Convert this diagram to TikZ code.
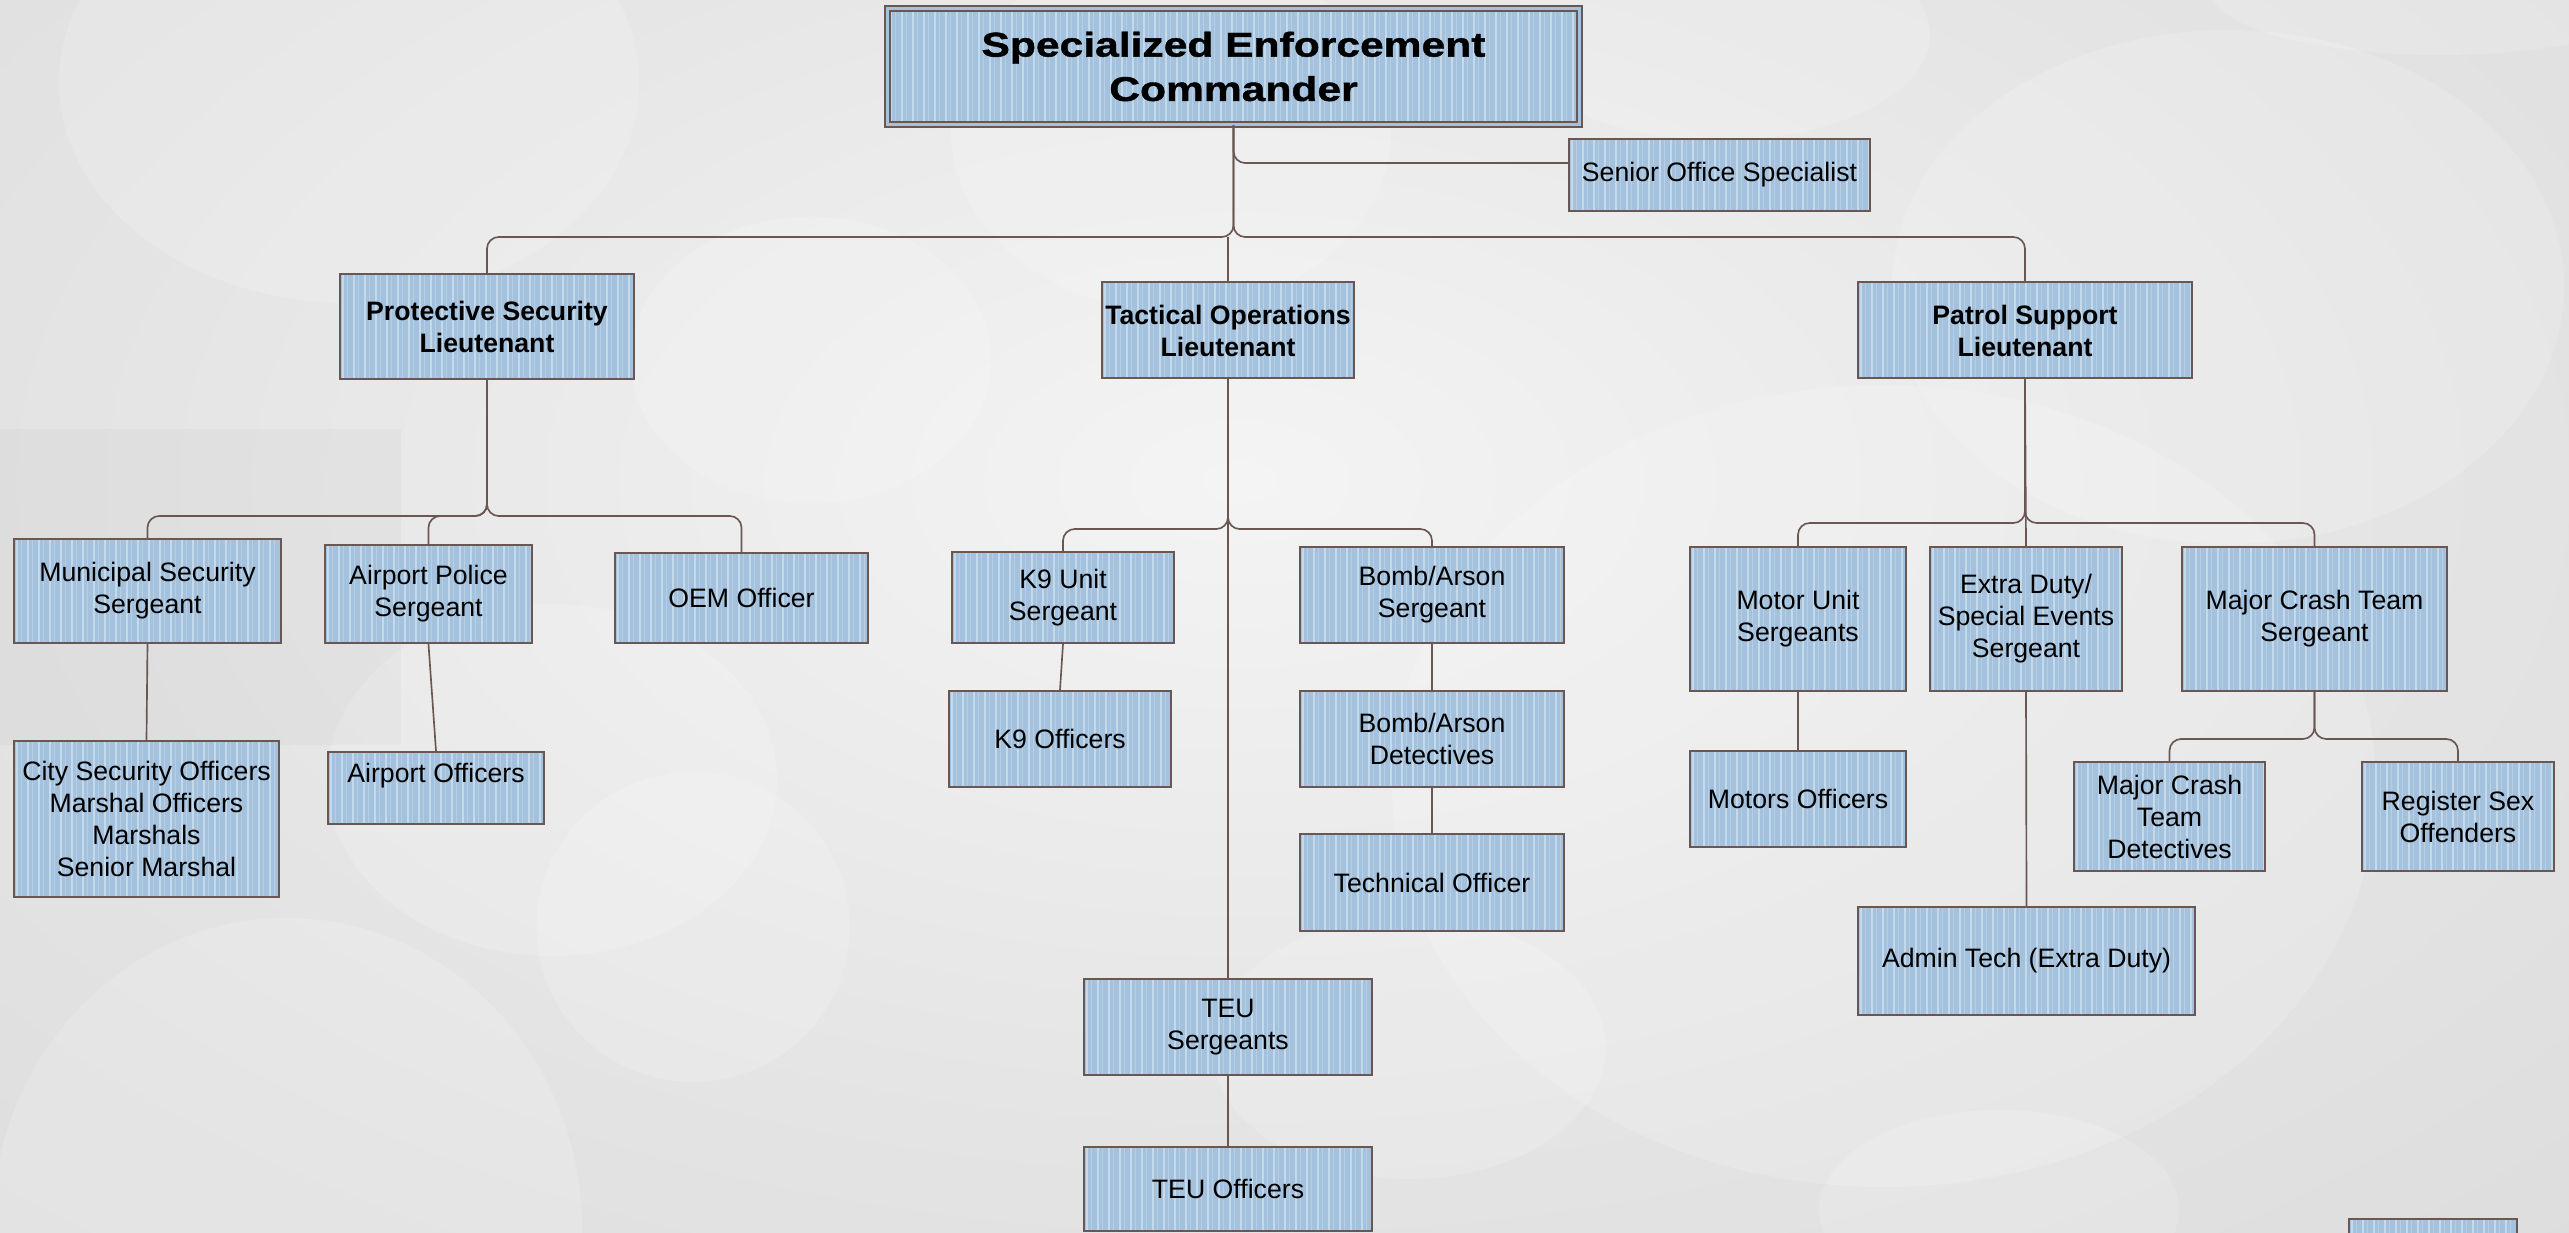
\documentclass[tikz,border=0pt]{standalone}
\usepackage{fontspec}
\setmainfont{Liberation Sans}
\newfontfamily\titlefont{Liberation Sans}[FakeStretch=1.24, FakeBold=1.2]
\definecolor{boxc}{HTML}{A4C2DD}
\definecolor{stripec}{HTML}{C4D9EA}
\definecolor{edgec}{HTML}{6A5752}
\definecolor{bga}{HTML}{F4F4F4}
\definecolor{bgb}{HTML}{E4E4E4}
\definecolor{bgc}{HTML}{D7D7D7}
\definecolor{bgd}{HTML}{CDCDCD}
\pgfdeclareradialshading{bgshade}{\pgfpoint{0bp}{0bp}}{color(0bp)=(bga); color(22bp)=(bgb); color(48bp)=(bgc); color(71bp)=(bgd)}

\begin{document}
\begin{tikzpicture}[x=0.3pt, y=-0.3pt,
  box/.style={shape=rectangle, draw=edgec, line width=0.6pt, fill=boxc, inner sep=0pt, align=center,
    font=\fontsize{8}{9.6}\selectfont,
    path picture={
      \path (path picture bounding box.south west) coordinate (sw) (path picture bounding box.north east) coordinate (ne);
      \foreach \k in {0,...,64} {
        \draw[stripec, line width=0.55pt] ([xshift=\k*3.3pt+1pt]sw) -- ([xshift=\k*3.3pt+1pt]sw |- ne);
        \draw[stripec!55!boxc, line width=0.25pt] ([xshift=\k*3.3pt+2.3pt]sw) -- ([xshift=\k*3.3pt+2.3pt]sw |- ne);
      }}},
  conn/.style={draw=edgec, line width=0.5pt, rounded corners=3.5pt}]
\useasboundingbox (0,0) rectangle (2569,1233);
\clip (0,0) rectangle (2569,1233);

\shade[shading=bgshade] (-90,-270) rectangle (2570,1233);
\fill[black, opacity=0.025] (0,429) rectangle (401,745);
\foreach \cx/\cy/\rx/\ry in {349/82/87/66.3, 1171/130/66/54, 811/360/54/43, 2228/287/100.8/77.1,
  2440/-10/69/19.5, 1720/35/63/31.5, 1884/786/147.6/120.3, 287/1229/88.5/93.3,
  693/927/47/46.5, 552/780/67.5/52.8, 1409/1048/59/39.3, 1999/1210/54/30}
  \fill[white, opacity=0.16] (\cx,\cy) ellipse [x radius=\rx pt, y radius=\ry pt];

\node [box, double=boxc, double distance=0.9pt, line width=0.5pt, minimum width=207.6pt, minimum height=34.8pt,
  font=\titlefont\bfseries\fontsize{10.3}{13.3}\selectfont] (CMD) at (1233.5,66.5) {Specialized Enforcement\\Commander};
\node [box, minimum width=90.3pt, minimum height=21.6pt] (SOS) at (1719.5,175) {Senior Office Specialist};

\node [box, minimum width=88.2pt, minimum height=31.5pt] (PSL) at (487,326.5) {\bfseries Protective Security\\\bfseries Lieutenant};
\node [box, minimum width=75.6pt, minimum height=28.8pt] (TOL) at (1228,330.5) {\bfseries Tactical Operations\\\bfseries Lieutenant};
\node [box, minimum width=100.2pt, minimum height=28.8pt] (PAL) at (2025,330.5) {\bfseries Patrol Support\\\bfseries Lieutenant};

\node [box, minimum width=80.1pt, minimum height=31.2pt] (MSS) at (147.5,591) {Municipal Security\\Sergeant};
\node [box, minimum width=62.1pt, minimum height=29.4pt] (APS) at (428.5,594) {Airport Police\\Sergeant};
\node [box, minimum width=75.9pt, minimum height=27pt] (OEM) at (741.5,598) {OEM Officer};
\node [box, minimum width=79.5pt, minimum height=46.8pt] (CSO) at (146.5,819) {City Security Officers\\Marshal Officers\\Marshals\\Senior Marshal};
\node [box, minimum width=64.8pt, minimum height=21.6pt] (APO) at (436,788) {\raisebox{9pt}{Airport Officers}};

\node [box, minimum width=66.6pt, minimum height=27.3pt] (K9S) at (1063,597.5) {K9 Unit\\Sergeant};
\node [box, minimum width=66.6pt, minimum height=28.8pt] (K9O) at (1060,739) {K9 Officers};
\node [box, minimum width=79.2pt, minimum height=28.8pt] (BAS) at (1432,595) {Bomb/Arson\\Sergeant};
\node [box, minimum width=79.2pt, minimum height=28.8pt] (BAD) at (1432,739) {Bomb/Arson\\Detectives};
\node [box, minimum width=79.2pt, minimum height=29.1pt] (TEC) at (1432,882.5) {Technical Officer};
\node [box, minimum width=86.4pt, minimum height=28.8pt] (TEUS) at (1228,1027) {TEU\\Sergeants};
\node [box, minimum width=86.4pt, minimum height=25.2pt] (TEUO) at (1228,1189) {TEU Officers};

\node [box, minimum width=64.8pt, minimum height=43.2pt] (MUS) at (1798,619) {Motor Unit\\Sergeants};
\node [box, minimum width=57.6pt, minimum height=43.2pt] (EDS) at (2026,619) {Extra Duty/\\Special Events\\Sergeant};
\node [box, minimum width=79.5pt, minimum height=43.2pt] (MCS) at (2314.5,619) {Major Crash Team\\Sergeant};
\node [box, minimum width=64.8pt, minimum height=28.8pt] (MOT) at (1798,799) {Motors Officers};
\node [box, minimum width=57.3pt, minimum height=32.7pt] (MCD) at (2169.5,816.5) {Major Crash\\Team\\Detectives};
\node [box, minimum width=57.6pt, minimum height=32.7pt] (RSO) at (2458,816.5) {Register Sex\\Offenders};
\node [box, minimum width=101.1pt, minimum height=32.4pt] (ADM) at (2026.5,961) {Admin Tech (Extra Duty)};
\node [box, minimum width=50.4pt, minimum height=18pt] (NXT) at (2433,1249) {};

\coordinate (B0) at (1233,237);
\coordinate (B1) at (487,516);
\coordinate (B2) at (1228,529);
\coordinate (B3) at (2025,523);
\coordinate (B4) at (2314,739);

\draw[conn] (CMD.south) |- ([yshift=3.6pt]SOS.west);
\draw[conn] (CMD.south) |- (B0 -| PSL.north) -- (PSL.north);
\draw[conn] (CMD.south) |- (B0 -| PAL.north) -- (PAL.north);
\draw[conn] (B0 -| TOL.north) -- (TOL.north);

\draw[conn] (PSL.south) |- (B1 -| MSS.north) -- (MSS.north);
\draw[conn] (PSL.south) |- (B1 -| APS.north) -- (APS.north);
\draw[conn] (PSL.south) |- (B1 -| OEM.north) -- (OEM.north);
\draw[conn] (MSS.south) -- (CSO.north);
\draw[conn] (APS.south) -- (APO.north);

\draw[conn] (TOL.south) |- (B2 -| K9S.north) -- (K9S.north);
\draw[conn] (TOL.south) |- (B2 -| BAS.north) -- (BAS.north);
\draw[conn] (TOL.south) -- (TEUS.north);
\draw[conn] (K9S.south) -- (K9O.north);
\draw[conn] (BAS.south) -- (BAD.north);
\draw[conn] (BAD.south) -- (TEC.north);
\draw[conn] (TEUS.south) -- (TEUO.north);

\draw[conn] (PAL.south) |- (B3 -| MUS.north) -- (MUS.north);
\draw[conn] (PAL.south) |- (B3 -| MCS.north) -- (MCS.north);
\draw[conn] (PAL.south) -- (EDS.north);
\draw[conn] (MUS.south) -- (MOT.north);
\draw[conn] (EDS.south) -- (ADM.north);
\draw[conn] (MCS.south) |- (B4 -| MCD.north) -- (MCD.north);
\draw[conn] (MCS.south) |- (B4 -| RSO.north) -- (RSO.north);
\end{tikzpicture}
\end{document}
